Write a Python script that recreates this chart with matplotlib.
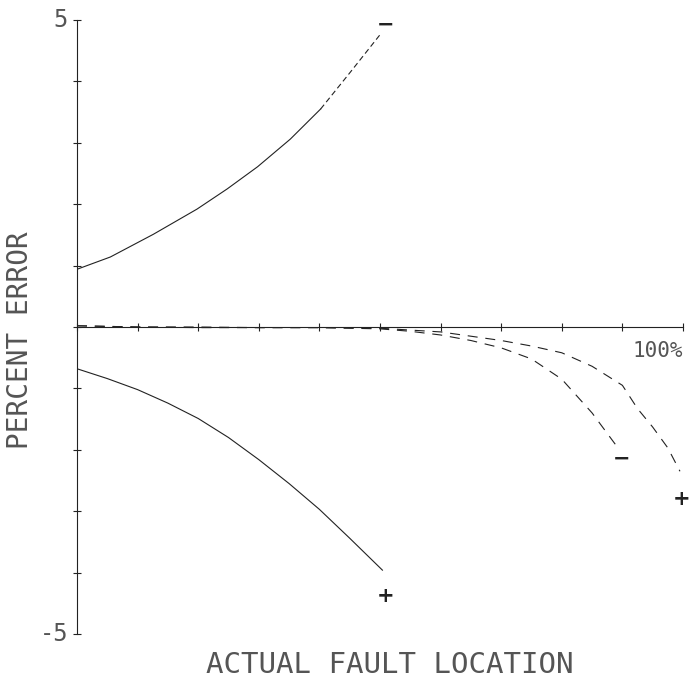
import matplotlib.pyplot as plt

# fault location (%) vs percent error
x_upper = [0, 5.5, 12.6, 19.8, 24.8, 29.8, 35.2, 40.2, 45.1, 50]
y_upper = [0.94, 1.14, 1.51, 1.92, 2.25, 2.61, 3.06, 3.55, 4.15, 4.76]

x_lower = [0, 5, 10, 15, 20, 25, 30, 35, 40, 45, 50.4]
y_lower = [-0.68, -0.84, -1.02, -1.24, -1.49, -1.80, -2.16, -2.55, -2.97, -3.44, -3.96]

x_inner = [0, 10, 20, 30, 40, 50, 55, 60, 65, 70, 75, 80, 85, 89.5]
y_inner = [0.02, 0.0, -0.01, -0.01, -0.01, -0.03, -0.07, -0.13, -0.22, -0.34, -0.52, -0.85, -1.4, -2.0]

x_outer = [0, 10, 20, 30, 40, 50, 60, 65, 70, 75, 80, 85, 90, 92.5, 95, 97.5, 99.5]
y_outer = [0.02, 0.0, 0.0, -0.01, -0.01, -0.02, -0.08, -0.15, -0.22, -0.31, -0.42, -0.64,
           -0.95, -1.33, -1.63, -1.97, -2.35]

# sign labels at curve ends: (x, y, text)
sign_labels = [(51, 4.93, '\u2212'), (51, -4.38, '+'), (89.9, -2.15, '\u2212'), (99.7, -2.8, '+')]

fig = plt.figure(figsize=(6.91, 6.82), dpi=100)
ax = fig.add_axes([77 / 691, 1 - 634 / 682, 606 / 691, 614 / 682])
ax.set_xlim(0, 100)
ax.set_ylim(-5, 5)

ink = '#222222'
ax.plot(x_upper[:8], y_upper[:8], color=ink, lw=0.8)
ax.plot(x_upper[7:], y_upper[7:], color=ink, lw=0.8, dashes=(5, 3))
ax.plot(x_lower, y_lower, color=ink, lw=0.8)
ax.plot(x_inner, y_inner, color=ink, lw=0.8, dashes=(9, 7))
ax.plot(x_outer, y_outer, color=ink, lw=0.8, dashes=(9, 7))

for xs, ys, s in sign_labels:
    ax.text(xs, ys, s, ha='center', va='center', fontsize=15, fontweight='bold', color=ink)

# axes drawn through the origin like the plotter output
for side in ['top', 'right']:
    ax.spines[side].set_visible(False)
ax.spines['left'].set_position(('data', 0))
ax.spines['bottom'].set_position(('data', 0))
ax.spines['left'].set_linewidth(0.8)
ax.spines['bottom'].set_linewidth(0.8)
ax.spines['left'].set_color(ink)
ax.spines['bottom'].set_color(ink)
ax.set_xticks(range(0, 101, 10))
ax.set_yticks(range(-5, 6))
ax.tick_params(direction='inout', length=6, width=0.8, color=ink,
               labelbottom=False, labelleft=False)

txt = dict(family='DejaVu Sans Mono', color='#555555')
ax.text(-1.5, 5, '5', ha='right', va='center', fontsize=17, **txt)
ax.text(-1.5, -5, '-5', ha='right', va='center', fontsize=17, **txt)
ax.text(100, -0.22, '100%', ha='right', va='top', fontsize=15, **txt)
fig.text(20 / 691, 1 - 340 / 682, 'PERCENT ERROR', rotation=90, ha='center', va='center',
         fontsize=20, **txt)
fig.text(390 / 691, 1 - 665 / 682, 'ACTUAL FAULT LOCATION', ha='center', va='center',
         fontsize=21, **txt)

fig.savefig('out.png', dpi=100)
